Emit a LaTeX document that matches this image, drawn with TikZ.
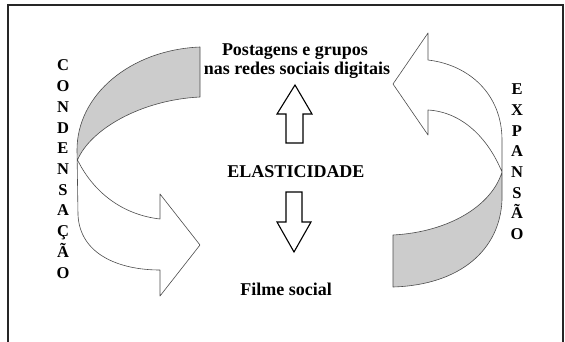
\documentclass[tikz,border=0pt]{standalone}
\usepackage{fontspec}
\setmainfont{Liberation Serif}
\begin{document}
\begin{tikzpicture}[x=1pt,y=-1pt,
  ribbonline/.style={draw=black!70,line width=0.6pt,line join=round},
  greyfill/.style={fill=black!20},
  whitefill/.style={fill=white},
  bigarrow/.style={draw=black,line width=1.1pt,fill=white,line join=miter},
  lbl/.style={font=\fontsize{18}{20}\selectfont\bfseries,inner sep=0pt,anchor=base},
  vletter/.style={font=\fontsize{16.5}{18}\selectfont\bfseries,inner sep=0pt,anchor=base},
  frameline/.style={draw=black!85,line width=1.8pt}]
\useasboundingbox (0,0) rectangle (565,342);
% frame
\coordinate (f1) at (8,342);
\coordinate (f2) at (8,5);
\coordinate (f3) at (563,5);
\coordinate (f4) at (563,342);
\draw[frameline] (f1) -- (f2) -- (f3) -- (f4);

% ---------- left ribbon (condensacao) ----------
\coordinate (LA1) at (200,47);
\coordinate (LA2) at (200,97);
\coordinate (LX) at (77.5,160);
\coordinate (LUN) at (160,219);
\coordinate (LUB) at (160,194);
\coordinate (LT) at (200,245);
\coordinate (LLB) at (160,296);
\coordinate (LLN) at (160,270);
% grey part
\path[greyfill] (LA1) .. controls (130,50) and (77,95) .. (77,150) -- (LX)
  .. controls (90,130) and (140,100) .. (LA2) -- cycle;
% white part
\path[whitefill] (LX) .. controls (95,195) and (125,215) .. (LUN) -- (LUB) -- (LT) -- (LLB) -- (LLN)
  .. controls (120,270) and (80,255) .. (78,215) -- (77,150) -- cycle;
% edges
\draw[ribbonline] (LA1) .. controls (130,50) and (77,95) .. (77,150) -- (78,215)
  .. controls (80,255) and (120,270) .. (LLN) -- (LLB) -- (LT) -- (LUB) -- (LUN)
  .. controls (125,215) and (95,195) .. (LX) .. controls (90,130) and (140,100) .. (LA2) -- cycle;

% ---------- right ribbon (expansao) ----------
\coordinate (RB1) at (393,235);
\coordinate (RB2) at (393,287);
\coordinate (RX) at (502,172);
\coordinate (RLN) at (428,110);
\coordinate (RLB) at (428,135);
\coordinate (RT) at (393,84);
\coordinate (RUB) at (428,33);
\coordinate (RUN) at (428,60);
% grey part
\path[greyfill] (RB1) .. controls (450,232) and (492,205) .. (RX) -- (502,200)
  .. controls (500,250) and (460,285) .. (RB2) -- cycle;
% white part
\path[whitefill] (RX) .. controls (488,138) and (462,112) .. (RLN) -- (RLB) -- (RT) -- (RUB) -- (RUN)
  .. controls (470,65) and (502,95) .. (502,140) -- cycle;
% edges
\draw[ribbonline] (RB2) .. controls (460,285) and (500,250) .. (502,200) -- (502,140)
  .. controls (502,95) and (470,65) .. (RUN) -- (RUB) -- (RT) -- (RLB) -- (RLN)
  .. controls (462,112) and (488,138) .. (RX) .. controls (492,205) and (450,232) .. (RB1) -- cycle;

% ---------- central arrows ----------
\coordinate (ut) at (295,85);
\draw[bigarrow] (ut) -- (312,114) -- (303,114) -- (303,143) -- (286,143) -- (286,114) -- (277,114) -- cycle;
\coordinate (dt) at (294,252);
\draw[bigarrow] (dt) -- (311,222) -- (302,222) -- (302,192) -- (286,192) -- (286,222) -- (277,222) -- cycle;

% ---------- texts ----------
\node[lbl] (post) at (295,56) {Postagens e grupos};
\node[lbl] (redes) at (297,75) {nas redes sociais digitais};
\node[lbl] (elast) at (296,177) {ELASTICIDADE};
\node[lbl] (filme) at (286,295) {Filme social};

\foreach \L [count=\i from 0] in {C,O,N,D,E,N,S,A,Ç,Ã,O}
  \node[vletter] (cl\i) at (63,{71+20.7*\i}) {\L};
\foreach \L [count=\i from 0] in {E,X,P,A,N,S,Ã,O}
  \node[vletter] (el\i) at (517,{95+20.6*\i}) {\L};
\end{tikzpicture}
\end{document}
